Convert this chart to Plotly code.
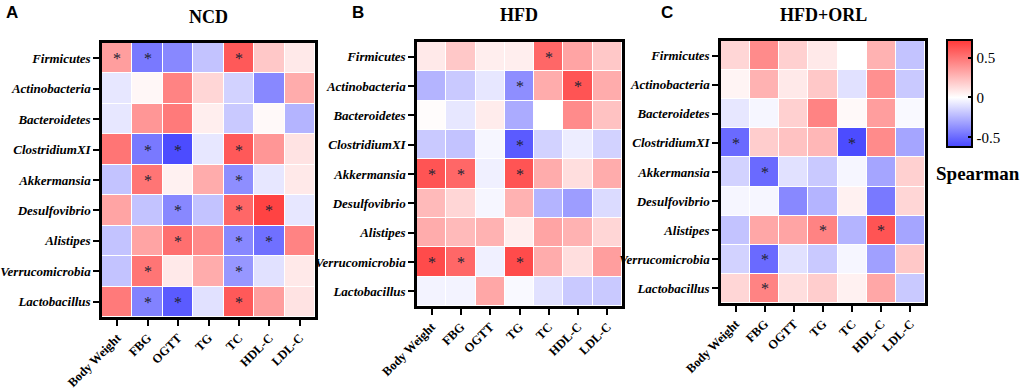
import plotly.graph_objects as go

taxa = ["Firmicutes", "Actinobacteria", "Bacteroidetes", "ClostridiumXI", "Akkermansia",
        "Desulfovibrio", "Alistipes", "Verrucomicrobia", "Lactobacillus"]
params = ["Body Weight", "FBG", "OGTT", "TG", "TC", "HDL-C", "LDL-C"]

ncd = [
    [0.35, -0.45, -0.40, -0.20, 0.60, 0.20, 0.08],
    [-0.08, 0.03, 0.45, 0.15, -0.15, -0.40, 0.30],
    [-0.08, 0.38, 0.48, 0.06, -0.18, 0.02, -0.25],
    [0.50, -0.45, -0.60, -0.08, 0.60, 0.38, 0.10],
    [-0.20, 0.50, 0.05, 0.30, -0.38, -0.08, 0.08],
    [0.33, -0.20, -0.40, -0.20, 0.55, 0.68, -0.08],
    [-0.20, 0.33, 0.52, 0.42, -0.40, -0.48, 0.45],
    [-0.20, 0.50, 0.08, 0.30, -0.35, -0.10, 0.08],
    [0.48, -0.42, -0.55, -0.10, 0.60, 0.35, 0.10],
]
ncd_sig = [
    [1, 1, 0, 0, 1, 0, 0],
    [0, 0, 0, 0, 0, 0, 0],
    [0, 0, 0, 0, 0, 0, 0],
    [0, 1, 1, 0, 1, 0, 0],
    [0, 1, 0, 0, 1, 0, 0],
    [0, 0, 1, 0, 1, 1, 0],
    [0, 0, 1, 0, 1, 1, 0],
    [0, 1, 0, 0, 1, 0, 0],
    [0, 1, 1, 0, 1, 0, 0],
]

hfd = [
    [0.08, 0.20, 0.06, 0.06, 0.55, 0.33, 0.20],
    [-0.25, -0.18, -0.08, -0.38, 0.30, 0.62, 0.30],
    [0.01, -0.08, 0.07, -0.28, 0.00, 0.42, 0.22],
    [-0.18, -0.20, -0.03, -0.55, -0.15, -0.06, -0.15],
    [0.62, 0.55, -0.05, 0.62, 0.30, 0.12, 0.30],
    [0.25, 0.15, -0.03, 0.28, -0.25, -0.33, -0.12],
    [0.30, 0.25, 0.28, 0.06, 0.33, 0.28, 0.15],
    [0.65, 0.55, -0.05, 0.65, 0.30, 0.12, 0.35],
    [-0.04, -0.04, 0.32, -0.02, -0.10, -0.18, -0.18],
]
hfd_sig = [
    [0, 0, 0, 0, 1, 0, 0],
    [0, 0, 0, 1, 0, 1, 0],
    [0, 0, 0, 0, 0, 0, 0],
    [0, 0, 0, 1, 0, 0, 0],
    [1, 1, 0, 1, 0, 0, 0],
    [0, 0, 0, 0, 0, 0, 0],
    [0, 0, 0, 0, 0, 0, 0],
    [1, 1, 0, 1, 0, 0, 0],
    [0, 0, 0, 0, 0, 0, 0],
]

orl = [
    [0.15, 0.42, 0.17, 0.08, 0.00, 0.28, -0.20],
    [0.04, 0.28, 0.08, 0.20, -0.10, 0.40, -0.18],
    [-0.08, -0.03, 0.17, 0.45, 0.02, 0.35, -0.02],
    [-0.50, 0.18, 0.22, 0.26, -0.60, 0.42, -0.30],
    [-0.15, -0.50, -0.10, -0.18, -0.03, -0.30, 0.17],
    [-0.03, -0.03, -0.40, -0.25, 0.05, -0.45, 0.15],
    [-0.20, 0.32, 0.33, 0.45, -0.25, 0.62, -0.30],
    [-0.15, -0.50, -0.10, -0.18, -0.03, -0.32, 0.20],
    [0.15, 0.45, 0.12, 0.18, 0.05, 0.32, -0.18],
]
orl_sig = [
    [0, 0, 0, 0, 0, 0, 0],
    [0, 0, 0, 0, 0, 0, 0],
    [0, 0, 0, 0, 0, 0, 0],
    [1, 0, 0, 0, 1, 0, 0],
    [0, 1, 0, 0, 0, 0, 0],
    [0, 0, 0, 0, 0, 0, 0],
    [0, 0, 0, 1, 0, 1, 0],
    [0, 1, 0, 0, 0, 0, 0],
    [0, 1, 0, 0, 0, 0, 0],
]

titles = ["NCD", "HFD", "HFD+ORL"]
letters = ["A", "B", "C"]

ZMIN, ZMAX = -0.62, 0.72
wpos = -ZMIN / (ZMAX - ZMIN)
cscale = [[0.0, "#4646ff"], [wpos, "#ffffff"], [1.0, "#ff3838"]]

W, H = 1021, 390
# pixel boxes (left, right, top, bottom)
boxes = [(102, 315, 43, 317), (417, 622, 42, 306), (721, 925, 41, 303)]

fig = go.Figure()
serif = "Liberation Serif, Times New Roman, serif"
sans = "Liberation Sans, Arial, sans-serif"

datasets = [(ncd, ncd_sig), (hfd, hfd_sig), (orl, orl_sig)]
for i, (z, sig) in enumerate(datasets):
    xa = "x" if i == 0 else f"x{i+1}"
    ya = "y" if i == 0 else f"y{i+1}"
    text = [["*" if s else "" for s in row] for row in sig]
    fig.add_trace(go.Heatmap(
        z=z, x=params, y=taxa, text=text, texttemplate="%{text}",
        textfont=dict(size=16, color="#222233", family=serif),
        colorscale=cscale, zmin=ZMIN, zmax=ZMAX, xgap=1, ygap=1,
        showscale=(i == 0), xaxis=xa, yaxis=ya,
        colorbar=dict(
            x=947 / W, xanchor="left", y=1 - 40 / H, yanchor="top",
            len=107, lenmode="pixels", thickness=25, thicknessmode="pixels",
            xpad=0, ypad=0,
            outlinewidth=2, outlinecolor="black",
            tickvals=[-0.5, 0, 0.5], ticktext=["-0.5", "0", "0.5"],
            ticks="inside", ticklen=5, tickwidth=2, tickcolor="black",
            tickfont=dict(family=serif, size=15, color="black"),
        ) if i == 0 else None,
    ))
    l, r, t, b = boxes[i]
    xkey = "xaxis" if i == 0 else f"xaxis{i+1}"
    ykey = "yaxis" if i == 0 else f"yaxis{i+1}"
    fig.layout[xkey] = dict(
        domain=[l / W, r / W], anchor=ya, showline=True, mirror=True, automargin=False,
        linecolor="black", linewidth=2.5, ticks="outside", ticklen=6, tickwidth=2,
        tickcolor="black", tickangle=-45, showgrid=False, zeroline=False,
        tickmode="array", tickvals=params, ticktext=[f"<b>{p}</b>" for p in params],
        tickfont=dict(family=serif, size=12.5, color="black"), fixedrange=True,
    )
    fig.layout[ykey] = dict(
        domain=[1 - b / H, 1 - t / H], anchor=xa, showline=True, mirror=True, automargin=False,
        linecolor="black", linewidth=2.5, ticks="outside", ticklen=6, tickwidth=2,
        tickcolor="black", showgrid=False, zeroline=False, autorange="reversed",
        tickmode="array", tickvals=taxa, ticktext=[f"<b><i>{t_}</i></b>" for t_ in taxa],
        tickfont=dict(family=serif, size=13, color="black"), fixedrange=True,
    )

anns = []
title_pos = [(208, 17), (519, 15), (823, 15)]
letter_pos = [(12, 13), (358, 13), (667, 13)]
for i in range(3):
    anns.append(dict(text=f"<b>{titles[i]}</b>", x=title_pos[i][0] / W, y=1 - title_pos[i][1] / H,
                     xref="paper", yref="paper", showarrow=False, xanchor="center", yanchor="middle",
                     font=dict(family=serif, size=18, color="black")))
    anns.append(dict(text=f"<b>{letters[i]}</b>", x=letter_pos[i][0] / W, y=1 - letter_pos[i][1] / H,
                     xref="paper", yref="paper", showarrow=False, xanchor="center", yanchor="middle",
                     font=dict(family=sans, size=17, color="black")))
anns.append(dict(text="<b>Spearman</b>", x=978 / W, y=1 - 173 / H, xref="paper", yref="paper",
                 showarrow=False, xanchor="center", yanchor="middle",
                 font=dict(family=serif, size=19, color="black")))

fig.update_layout(
    width=W, height=H, margin=dict(l=0, r=0, t=0, b=0),
    paper_bgcolor="white", plot_bgcolor="white", annotations=anns, showlegend=False,
)

fig.write_html("out.html", config={"displayModeBar": False},
               post_script="document.body.style.margin='0';document.body.style.overflow='hidden';")
